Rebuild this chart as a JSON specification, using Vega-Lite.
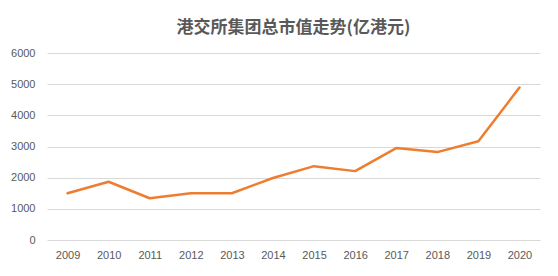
{
  "$schema": "https://vega.github.io/schema/vega-lite/v6.json",
  "width": 493,
  "height": 187,
  "autosize": {"type": "none"},
  "padding": {"left": 47, "top": 53, "right": 18, "bottom": 36},
  "background": "white",
  "title": {
    "text": "港交所集团总市值走势(亿港元)",
    "font": "Noto Sans CJK SC",
    "fontSize": 17,
    "fontWeight": "bold",
    "color": "#595959",
    "anchor": "middle",
    "offset": 10
  },
  "data": {
    "values": [
      {"year": "2009", "value": 1500},
      {"year": "2010", "value": 1870},
      {"year": "2011", "value": 1340},
      {"year": "2012", "value": 1500},
      {"year": "2013", "value": 1500},
      {"year": "2014", "value": 1990},
      {"year": "2015", "value": 2370},
      {"year": "2016", "value": 2210},
      {"year": "2017", "value": 2950},
      {"year": "2018", "value": 2820},
      {"year": "2019", "value": 3170},
      {"year": "2020", "value": 4890}
    ]
  },
  "mark": {"type": "line", "color": "#ED7D31", "strokeWidth": 2.5, "strokeCap": "round", "strokeJoin": "round"},
  "encoding": {
    "x": {
      "field": "year",
      "type": "ordinal",
      "scale": {"type": "point", "padding": 0.5},
      "axis": {
        "title": null,
        "labelAngle": 0,
        "ticks": false,
        "domain": false,
        "grid": false,
        "labelPadding": 9,
        "labelFont": "Liberation Sans",
        "labelFontSize": 11,
        "labelColor": "#595959"
      }
    },
    "y": {
      "field": "value",
      "type": "quantitative",
      "scale": {"domain": [0, 6000], "nice": false},
      "axis": {
        "title": null,
        "format": "d",
        "values": [0, 1000, 2000, 3000, 4000, 5000, 6000],
        "ticks": false,
        "domain": false,
        "grid": true,
        "gridColor": "#D9D9D9",
        "gridWidth": 1,
        "labelPadding": 12,
        "labelFont": "Liberation Sans",
        "labelFontSize": 11,
        "labelColor": "#595959"
      }
    }
  },
  "config": {
    "view": {"stroke": null}
  }
}
